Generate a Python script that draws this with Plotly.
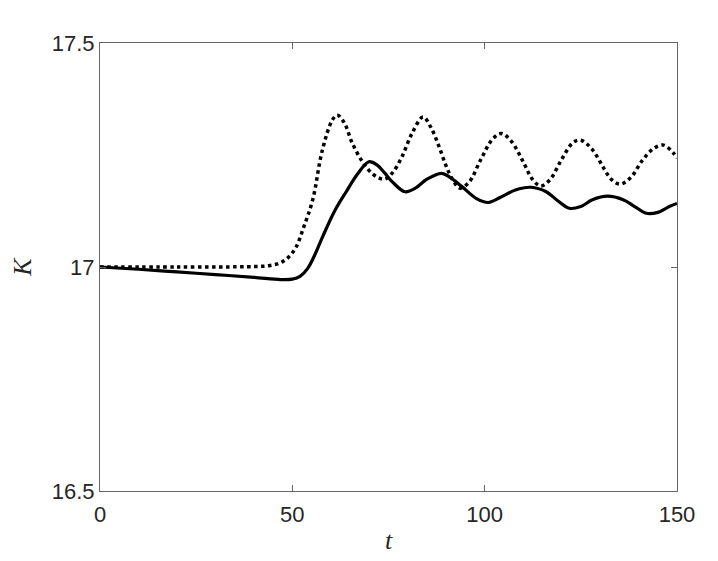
import plotly.graph_objects as go

# Solid curve samples
t_solid = [0, 10, 20, 30, 40, 47, 50, 52, 54, 56, 58, 61, 64, 67, 69.9, 72, 74, 76, 79.3,
           82, 85, 88.8, 91, 94, 98, 101, 104, 108, 112, 116, 119, 122, 125, 128, 132,
           136, 139, 142, 145, 148, 150]
k_solid = [17.000, 16.995, 16.989, 16.983, 16.977, 16.972, 16.973, 16.979, 16.997, 17.030,
           17.070, 17.125, 17.168, 17.208, 17.235, 17.228, 17.210, 17.190, 17.168,
           17.176, 17.196, 17.209, 17.200, 17.180, 17.152, 17.144, 17.155, 17.172, 17.178,
           17.168, 17.148, 17.131, 17.135, 17.150, 17.158, 17.150, 17.135, 17.120, 17.122,
           17.135, 17.142]

# Dotted curve samples
t_dot = [0, 20, 40, 44, 47, 49, 51, 53, 55.3, 57.8, 60.4, 61.7, 63.5, 65.6, 68.2, 70, 72,
         74, 76, 78.5, 81.1, 84, 86, 88, 90, 92, 93.6, 96, 99, 102, 104.3, 107, 110, 112.5,
         114.6, 117, 120, 123, 125, 128, 131, 133, 135.3, 138, 141, 144, 146.5, 149, 150]
k_dot = [17.000, 17.000, 17.001, 17.003, 17.010, 17.022, 17.045, 17.090, 17.150, 17.261,
         17.328, 17.339, 17.322, 17.276, 17.235, 17.215, 17.201, 17.196, 17.210, 17.246,
         17.298, 17.335, 17.312, 17.272, 17.225, 17.190, 17.176, 17.190, 17.240, 17.285,
         17.298, 17.280, 17.235, 17.195, 17.181, 17.195, 17.240, 17.278, 17.283, 17.262,
         17.220, 17.195, 17.185, 17.200, 17.238, 17.265, 17.272, 17.255, 17.243]

x_ticks = [0, 50, 100, 150]
y_ticks = [16.5, 17, 17.5]
y_ticklabels = ["16.5", "17", "17.5"]

fig = go.Figure()
fig.add_trace(go.Scatter(x=t_dot, y=k_dot, mode="lines",
                         line=dict(color="black", width=3.5, dash="dot", shape="spline"),
                         showlegend=False))
fig.add_trace(go.Scatter(x=t_solid, y=k_solid, mode="lines",
                         line=dict(color="black", width=3.2, shape="spline"),
                         showlegend=False))

axis_common = dict(showgrid=False, zeroline=False, showline=True, mirror="ticks",
                   linecolor="#666666", linewidth=1, ticks="inside", ticklen=6,
                   tickcolor="#666666", tickwidth=1,
                   tickfont=dict(family="Liberation Sans, Arial", size=22, color="#262626"))

fig.update_xaxes(range=[0, 150], tickvals=x_ticks, ticktext=[str(v) for v in x_ticks],
                 ticklabelstandoff=4,
                 title=dict(text="<i>t</i>", font=dict(family="Liberation Serif, Times New Roman", size=26, color="#262626"),
                            standoff=4),
                 **axis_common)
fig.update_yaxes(range=[16.5, 17.5], tickvals=y_ticks, ticktext=y_ticklabels,
                 title=dict(text="<i>K</i>", font=dict(family="Liberation Serif, Times New Roman", size=26, color="#262626"),
                            standoff=14),
                 **axis_common)

fig.update_layout(width=718, height=561, plot_bgcolor="white", paper_bgcolor="white",
                  margin=dict(l=88, r=49, t=35, b=78))

fig.write_html("out.html")
